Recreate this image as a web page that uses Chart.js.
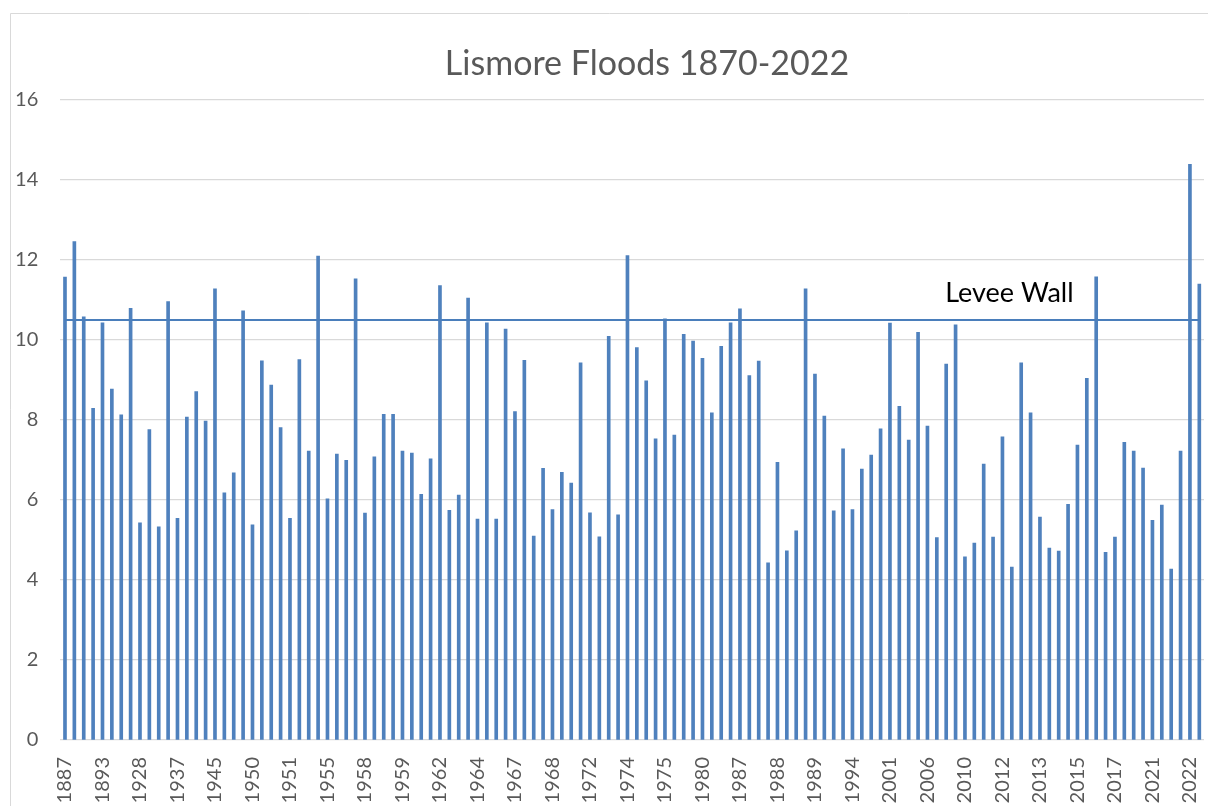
<!DOCTYPE html>
<html>
<head>
<meta charset="utf-8">
<script src="https://cdn.jsdelivr.net/npm/chart.js@4/dist/chart.umd.min.js"></script>
<style>
html,body{margin:0;padding:0;background:#fff;}
#wrap{width:1208px;height:806px;position:relative;}
</style>
</head>
<body>
<div id="wrap"><canvas id="c" width="1208" height="806"></canvas></div>
<script>
// Flood heights (m), one per flood event, left to right
const floodHeights = [
  11.57, 12.46, 10.58, 8.29, 10.43, 8.77, 8.13, 10.79, 5.43, 7.76,
  5.33, 10.96, 5.54, 8.07, 8.71, 7.97, 11.28, 6.18, 6.68, 10.73,
  5.38, 9.48, 8.87, 7.81, 5.54, 9.51, 7.22, 12.10, 6.03, 7.15,
  6.99, 11.53, 5.67, 7.08, 8.14, 8.14, 7.22, 7.17, 6.14, 7.03,
  11.36, 5.74, 6.12, 11.05, 5.52, 10.43, 5.52, 10.27, 8.21, 9.49,
  5.10, 6.79, 5.76, 6.69, 6.42, 9.43, 5.68, 5.08, 10.09, 5.63,
  12.11, 9.81, 8.98, 7.53, 10.53, 7.62, 10.14, 9.97, 9.54, 8.18,
  9.84, 10.43, 10.78, 9.11, 9.47, 4.43, 6.94, 4.73, 5.23, 11.28,
  9.15, 8.10, 5.73, 7.28, 5.76, 6.77, 7.12, 7.78, 10.42, 8.34,
  7.50, 10.19, 7.85, 5.06, 9.40, 10.38, 4.58, 4.92, 6.90, 5.07,
  7.58, 4.32, 9.43, 8.18, 5.57, 4.80, 4.72, 5.89, 7.37, 9.04,
  11.58, 4.69, 5.07, 7.44, 7.22, 6.80, 5.49, 5.87, 4.27, 7.22,
  14.39, 11.40
];
// Years shown on the axis (every 4th flood event)
const tickYears = [
  "1887","1893","1928","1937","1945","1950","1951","1955","1958","1959",
  "1962","1964","1967","1968","1972","1974","1975","1980","1987","1988",
  "1989","1994","2001","2006","2010","2012","2013","2015","2017","2021","2022"
];
const tickStep = 4;
const leveeHeight = 10.5;
const leveeLabel = "Levee Wall";
const chartTitle = "Lismore Floods 1870-2022";

const categories = floodHeights.map((v, i) => (i % tickStep === 0 ? tickYears[i / tickStep] : ""));
const leveeLine = floodHeights.map(() => leveeHeight);

const FONT = "Lato, 'Open Sans', sans-serif";

const bgPlugin = {
  id: 'bg',
  beforeDraw(chart) {
    const ctx = chart.ctx;
    ctx.save();
    ctx.fillStyle = '#ffffff';
    ctx.fillRect(0, 0, chart.width, chart.height);
    ctx.strokeStyle = '#d9d9d9';
    ctx.lineWidth = 1;
    ctx.beginPath();
    ctx.moveTo(10.5, chart.height);
    ctx.lineTo(10.5, 13.5);
    ctx.lineTo(chart.width, 13.5);
    ctx.stroke();
    // chart title (centred on the original chart frame, which extends past the right edge)
    ctx.font = "34px " + FONT;
    ctx.fillStyle = '#595959';
    ctx.textAlign = 'center';
    ctx.textBaseline = 'middle';
    ctx.fillText(chartTitle, 647, 64);
    ctx.restore();
  }
};

const leveeText = {
  id: 'leveeText',
  afterDatasetsDraw(chart) {
    const ctx = chart.ctx;
    const x = chart.scales.x.getPixelForValue(94) - 1;
    const y = chart.scales.y.getPixelForValue(11.18);
    ctx.save();
    ctx.font = "27px " + FONT;
    ctx.fillStyle = '#000000';
    ctx.textAlign = 'left';
    ctx.textBaseline = 'middle';
    ctx.fillText(leveeLabel, x, y);
    ctx.restore();
  }
};

new Chart(document.getElementById('c'), {
  data: {
    labels: categories,
    datasets: [
      {
        type: 'line',
        label: leveeLabel,
        data: leveeLine,
        borderColor: '#4A7EBB',
        borderWidth: 2,
        pointRadius: 0,
        fill: false,
        order: 0
      },
      {
        type: 'bar',
        label: 'Flood height',
        data: floodHeights,
        backgroundColor: '#4F81BD',
        borderWidth: 0,
        barThickness: 3,
        order: 1
      }
    ]
  },
  options: {
    responsive: false,
    animation: false,
    layout: { padding: { left: 0, right: 4, top: 100, bottom: 0 } },
    plugins: {
      legend: { display: false },
      tooltip: { enabled: false },
      title: { display: false }
    },
    scales: {
      x: {
        offset: true,
        grid: { display: false },
        border: { display: false },
        ticks: {
          autoSkip: false,
          minRotation: 90,
          maxRotation: 90,
          padding: 9,
          color: '#595959',
          font: { family: FONT, size: 20 }
        },
        afterFit(scale) {
          scale.height = 66;
          scale.paddingLeft = 0;
          scale.paddingRight = 0;
        }
      },
      y: {
        min: 0,
        max: 16,
        ticks: {
          stepSize: 2,
          padding: 22,
          color: '#595959',
          font: { family: FONT, size: 20 }
        },
        grid: { color: '#d9d9d9', lineWidth: 1.3, drawTicks: false },
        border: { display: false },
        afterFit(scale) {
          scale.width = 60.3;
          scale.paddingTop = 0;
          scale.paddingBottom = 0;
        }
      }
    }
  },
  plugins: [bgPlugin, leveeText]
});
</script>
</body>
</html>
